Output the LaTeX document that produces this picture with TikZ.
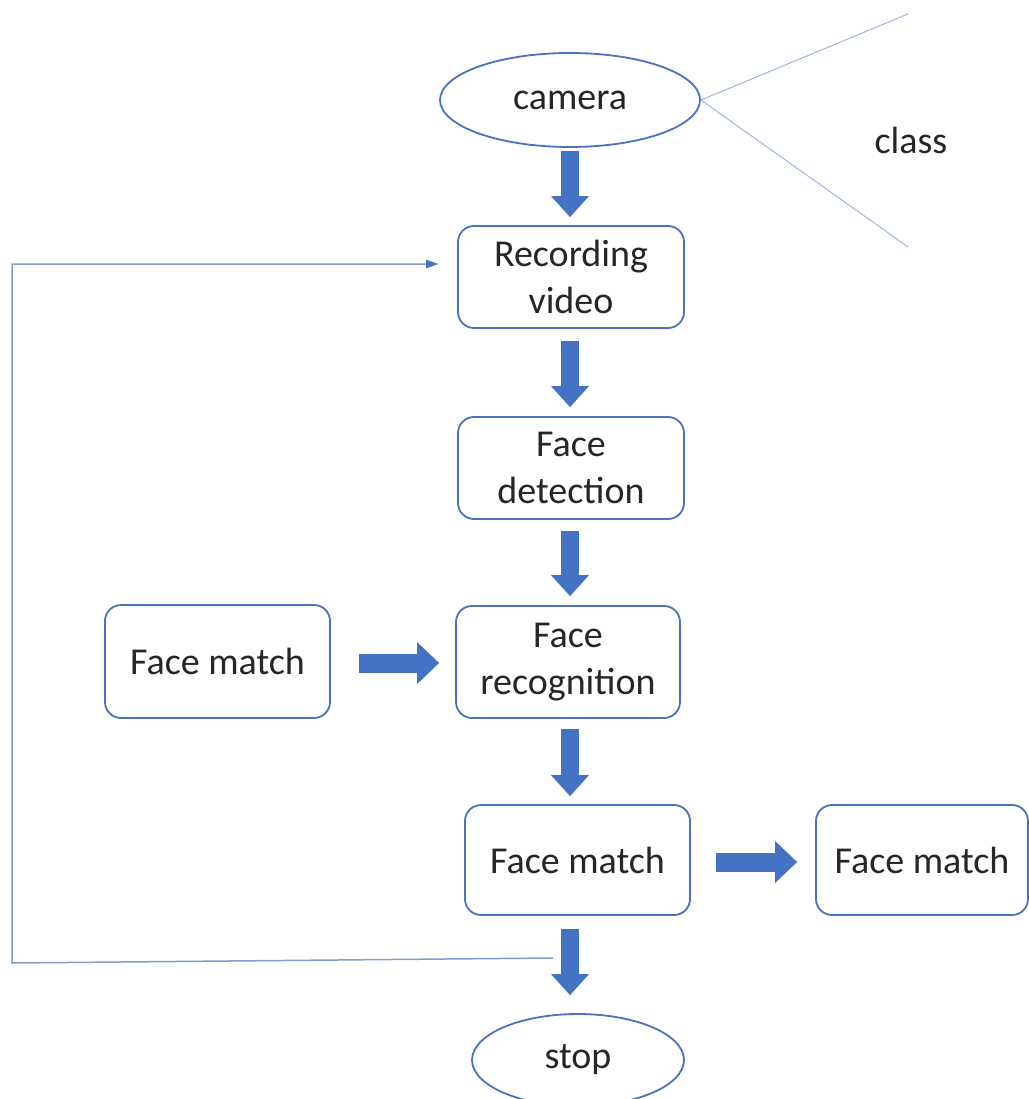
\documentclass[tikz,border=0pt]{standalone}
\usepackage{fontspec}
\setmainfont{Carlito}
\usetikzlibrary{arrows.meta,shapes.geometric,calc}
\definecolor{boxblue}{HTML}{4A72C0}
\definecolor{arrowblue}{HTML}{4472C4}
\definecolor{lineblue}{HTML}{7E9CD6}
\definecolor{thinblue}{HTML}{9FB4DC}
\definecolor{txt}{HTML}{262626}
\begin{document}
\begin{tikzpicture}[x=1pt,y=-1pt,
  box/.style={draw=boxblue, line width=1.8pt, rounded corners=16pt, fill=white,
    text=txt, align=center, font=\fontsize{38}{47}\selectfont, inner sep=0pt},
  oval/.style={ellipse, draw=boxblue, line width=1.8pt, fill=white, text=txt,
    font=\fontsize{38}{47}\selectfont, inner sep=0pt},
  blk/.style={draw=arrowblue, line width=18pt,
    -{Triangle[width=38pt,length=21pt,line width'=0pt,fill=arrowblue]}},
  hblk/.style={draw=arrowblue, line width=19pt,
    -{Triangle[width=42pt,length=22pt,line width'=0pt,fill=arrowblue]}},
  fb/.style={draw=lineblue, line width=1.5pt,
    -{Triangle[width=9pt,length=12pt,line width'=0pt,fill=boxblue]}},
  thin/.style={draw=thinblue, line width=1pt}
]
\useasboundingbox (0,0) rectangle (1028,1099);
\fill[white] (0,0) rectangle (1028,1099);

\coordinate (axis) at (570,0);

\node[oval, minimum width=260pt, minimum height=94pt] (cam) at (570,100) {camera};
\node[box, minimum width=226pt, minimum height=102pt] (rec) at (571,277) {Recording\\video};
\node[box, minimum width=226pt, minimum height=102pt] (det) at (571,468) {Face\\detection};
\node[box, minimum width=224pt, minimum height=112pt] (recog) at (568,662) {Face\\recognition};
\node[box, minimum width=225pt, minimum height=113pt] (fmL) at (217.5,661.5) {Face match};
\node[box, minimum width=225pt, minimum height=110pt] (fm) at (577.5,860) {Face match};
\node[box, minimum width=212pt, minimum height=110pt] (fmR) at (922,860) {Face match};
\node[oval, minimum width=212pt, minimum height=92pt] (stop) at (578,1060) {stop};

\node[text=txt, font=\fontsize{38}{47}\selectfont, inner sep=0pt] (cls) at (911,140) {class};

% lines toward "class"
\coordinate (c1) at (908,14);
\coordinate (c2) at (908,247);
\draw[thin] (cam.east) -- (c1);
\draw[thin] (cam.east) -- (c2);

% vertical block arrows
\draw[blk] ($(cam.south -| axis)+(0,3)$) -- ($(rec.north -| axis)+(0,-8)$);
\draw[blk] ($(rec.south -| axis)+(0,12)$) -- ($(det.north -| axis)+(0,-9)$);
\draw[blk] ($(det.south -| axis)+(0,11)$) -- ($(recog.north -| axis)+(0,-9)$);
\draw[blk] ($(recog.south -| axis)+(0,10)$) -- ($(fm.north -| axis)+(0,-8)$);
\draw[blk] ($(fm.south -| axis)+(0,13)$) -- ($(stop.north -| axis)+(0,-18)$);

% horizontal block arrows
\draw[hblk] ($(fmL.east)+(28,1.5)$) -- ($(recog.west)+(-16,1)$);
\draw[hblk] ($(fm.east)+(25,2)$) -- ($(fmR.west)+(-18,2)$);

% feedback loop
\coordinate (fbs) at (553,958);
\coordinate (fbc1) at (12,963);
\coordinate (fbc2) at (12,264);
\coordinate (fbe) at (438,264);
\draw[fb] (fbs) -- (fbc1) -- (fbc2) -- (fbe);
\end{tikzpicture}
\end{document}
